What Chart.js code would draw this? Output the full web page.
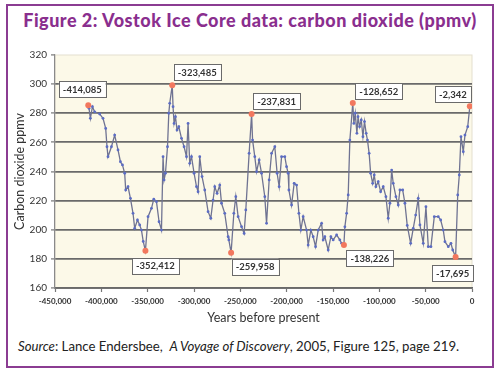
<!DOCTYPE html>
<html>
<head>
<meta charset="utf-8">
<script src="https://cdn.jsdelivr.net/npm/chart.js@4.4.0/dist/chart.umd.min.js"></script>
<style>
  body { margin: 0; background: #fff; width: 500px; height: 371px; overflow: hidden; }
  #frame { position: absolute; left: 6px; top: 4px; width: 488px; height: 364px; box-sizing: border-box; border: 2px solid #8b3c92; }
  #title { position: absolute; left: 0; top: 9px; width: 500px; text-align: center; font: 900 18px Lato, sans-serif; color: #8a2e8e; letter-spacing: 0.5px; }
  #wrap { position: absolute; left: 8px; top: 40px; width: 480px; height: 290px; }
  #source { position: absolute; left: 18px; top: 338px; font: 13.2px Lato, sans-serif; color: #222; }
</style>
</head>
<body>
<div id="frame"></div>
<div id="title">Figure 2: Vostok Ice Core data: carbon dioxide (ppmv)</div>
<div id="wrap"><canvas id="co2Chart"></canvas></div>
<div id="source"><i>Source</i>: Lance Endersbee,&nbsp; <i>A Voyage of Discovery</i>, 2005, Figure 125, page 219.</div>
<script>
// Vostok record, years before present vs CO2 (ppmv)
const years = [
  -414085, -413300, -411800, -409600, -407200, -401800, -398200, -395300, -393900, -392800,
  -389100, -385600, -382000, -379400, -377200, -374800, -373700, -371200, -368600, -365800,
  -364000, -361000, -358600, -356700, -354800, -352412, -349600, -345900, -343400, -340500,
  -337700, -335100, -333400, -332300, -330800, -328600, -327200, -326200, -323485, -322600,
  -321500, -320000, -318300, -316400, -313500, -310700, -308100, -306400, -304600, -302700,
  -299900, -297300, -295600, -293800, -291300, -288400, -284800, -281900, -279400, -277600,
  -275100, -272200, -270300, -266800, -263200, -262400, -259958, -257000, -254900, -252400,
  -248700, -245900, -244100, -240500, -237831, -236800, -234400, -232500, -229700, -227100,
  -223600, -221700, -218900, -216300, -212800, -210300, -208100, -205500, -202000, -200100,
  -198400, -197600, -194700, -191900, -189300, -186800, -184700, -182200, -178500, -176800,
  -173900, -171400, -168800, -166000, -162300, -160600, -158800, -155200, -152300, -149800,
  -146100, -142600, -140700, -138226, -137200, -135300, -133600, -131800, -128652, -127500,
  -126000, -124200, -123000, -121300, -119500, -117700, -116000, -114200, -112800, -111000,
  -109400, -107200, -105500, -103700, -101200, -98600, -95800, -92900, -90400, -88600,
  -86700, -85000, -82100, -79600, -77800, -74800, -72400, -69900, -66200, -63400,
  -60800, -58000, -56200, -52600, -49700, -47200, -44300, -40700, -36400, -33800,
  -31000, -29200, -25600, -22700, -20800, -17695, -15400, -13700, -11900, -9400,
  -7600, -4600, -2342
];
const co2 = [
  285.5, 283.4, 276.5, 284.5, 281.0, 279.5, 276.5, 269.6, 257.0, 250.2,
  257.0, 265.0, 254.8, 246.7, 244.5, 238.8, 227.3, 229.6, 221.6, 211.3,
  201.0, 206.7, 203.3, 199.8, 192.0, 185.6, 209.0, 214.7, 221.0, 219.3,
  205.5, 199.8, 250.2, 234.2, 238.8, 257.0, 280.0, 286.8, 299.2, 284.5,
  273.0, 277.6, 268.5, 270.8, 262.8, 257.0, 250.2, 273.0, 245.6, 250.2,
  238.8, 229.6, 226.1, 250.2, 236.5, 227.3, 212.4, 207.9, 220.4, 229.6,
  225.0, 230.7, 218.2, 211.3, 195.2, 193.0, 184.2, 211.3, 222.7, 209.0,
  202.1, 197.5, 213.6, 252.5, 279.5, 261.6, 250.2, 239.9, 247.9, 238.8,
  222.7, 204.4, 234.2, 252.5, 257.0, 238.8, 229.6, 250.2, 250.2, 243.3,
  238.8, 227.3, 217.0, 231.9, 230.7, 211.3, 199.8, 209.0, 199.8, 189.5,
  199.8, 195.2, 188.4, 199.8, 204.4, 193.0, 195.2, 186.1, 195.2, 193.0,
  196.4, 193.0, 190.7, 189.5, 202.0, 211.3, 223.9, 261.6, 287.0, 273.0,
  280.0, 266.2, 277.6, 270.8, 275.4, 263.9, 274.3, 266.2, 261.6, 252.5,
  238.8, 231.9, 237.6, 229.6, 233.0, 226.1, 229.6, 222.7, 207.9, 218.2,
  241.0, 231.9, 222.7, 217.0, 227.3, 227.3, 218.2, 203.0, 190.7, 201.0,
  210.1, 221.6, 203.3, 190.7, 215.8, 188.4, 188.4, 209.0, 209.0, 206.7,
  199.8, 191.8, 188.4, 190.7, 186.1, 181.3, 223.9, 237.6, 263.9, 253.6,
  265.0, 270.8, 284.8
];

// highlighted maxima / minima
const peakYears = [-414085, -352412, -323485, -259958, -237831, -138226, -128652, -17695, -2342];
const peakCo2 = [285.5, 185.6, 299.2, 184.2, 279.5, 189.5, 287.0, 181.3, 284.8];
// where each label box sits relative to its point (px)
const labelOffsets = [[-6, -16], [10, 15], [25, -13], [24, 14], [25, -13], [26, 13], [26, -12], [-3, 16], [-17, -12]];

const xMin = -450000, xMax = 0, xStep = 50000;
const yMin = 160, yMax = 320, yStep = 20;

const plotBg = {
  id: 'plotBg',
  beforeDraw(chart) {
    const { ctx, chartArea: a } = chart;
    ctx.save();
    ctx.fillStyle = '#fcf9e8';
    ctx.fillRect(a.left, a.top, a.right - a.left, a.bottom - a.top);
    ctx.strokeStyle = '#e4dfcf';
    ctx.lineWidth = 1;
    ctx.strokeRect(a.left, a.top, a.right - a.left, a.bottom - a.top);
    ctx.restore();
  }
};

const peakLabels = {
  id: 'peakLabels',
  afterDatasetsDraw(chart) {
    const { ctx } = chart;
    const xs = chart.scales.x, ys = chart.scales.y;
    ctx.save();
    ctx.font = 'bold 9.5px Lato, sans-serif';
    ctx.textAlign = 'center';
    ctx.textBaseline = 'middle';
    peakYears.forEach((yr, i) => {
      const txt = yr.toLocaleString('en-US');
      const cx = xs.getPixelForValue(yr) + labelOffsets[i][0];
      const cy = ys.getPixelForValue(peakCo2[i]) + labelOffsets[i][1];
      const w = ctx.measureText(txt).width + 8, h = 16;
      ctx.fillStyle = '#fff';
      ctx.fillRect(cx - w / 2, cy - h / 2, w, h);
      ctx.strokeStyle = '#6a6a6a';
      ctx.lineWidth = 1;
      ctx.strokeRect(Math.round(cx - w / 2) + 0.5, Math.round(cy - h / 2) + 0.5, Math.round(w), h);
      ctx.fillStyle = '#333';
      ctx.fillText(txt, cx, cy + 0.5);
    });
    ctx.restore();
  }
};

new Chart(document.getElementById('co2Chart'), {
  type: 'line',
  data: {
    datasets: [
      {
        label: 'peaks',
        data: peakYears.map((x, i) => ({ x, y: peakCo2[i] })),
        showLine: false,
        pointRadius: 3,
        pointBackgroundColor: '#f2785e',
        pointBorderWidth: 0,
        order: 0
      },
      {
        label: 'CO2',
        data: years.map((x, i) => ({ x, y: co2[i] })),
        borderColor: '#6f7392',
        borderWidth: 1.3,
        tension: 0,
        pointRadius: 1.4,
        pointBackgroundColor: '#5b6cc4',
        pointBorderWidth: 0,
        order: 1
      }
    ]
  },
  options: {
    responsive: true,
    maintainAspectRatio: false,
    animation: false,
    layout: { padding: { top: 15, right: 16, left: 0, bottom: 0 } },
    plugins: { legend: { display: false }, tooltip: { enabled: false } },
    scales: {
      x: {
        type: 'linear',
        min: xMin, max: xMax,
        afterFit: s => { s.height = 42; },
        ticks: { stepSize: xStep, color: '#333', padding: 5, maxRotation: 0,
                 font: { family: 'Lato', size: 8, weight: 'bold' } },
        grid: { drawOnChartArea: false, tickLength: 4, tickColor: '#777', tickWidth: 1.2 },
        border: { color: '#6a6a6a', width: 1.8 },
        title: { display: true, text: 'Years before present', color: '#333',
                 font: { family: 'Lato', size: 12.5 }, padding: { top: 0, bottom: 5 } }
      },
      y: {
        min: yMin, max: yMax,
        afterFit: s => { s.width = 47; },
        ticks: { stepSize: yStep, color: '#333', padding: 4,
                 font: { family: 'Lato', size: 10 } },
        grid: {
          color: c => c.tick && c.tick.value === yMax ? 'rgba(0,0,0,0)' : '#6a6a6a',
          lineWidth: 1.8, tickLength: 4, tickColor: '#777', tickWidth: 1.2
        },
        border: { color: '#8a8a8a', width: 1.2 },
        title: { display: true, text: 'Carbon dioxide ppmv', color: '#333',
                 font: { family: 'Lato', size: 12.5 }, padding: { top: 4, bottom: 0 } }
      }
    }
  },
  plugins: [plotBg, peakLabels]
});
</script>
</body>
</html>
